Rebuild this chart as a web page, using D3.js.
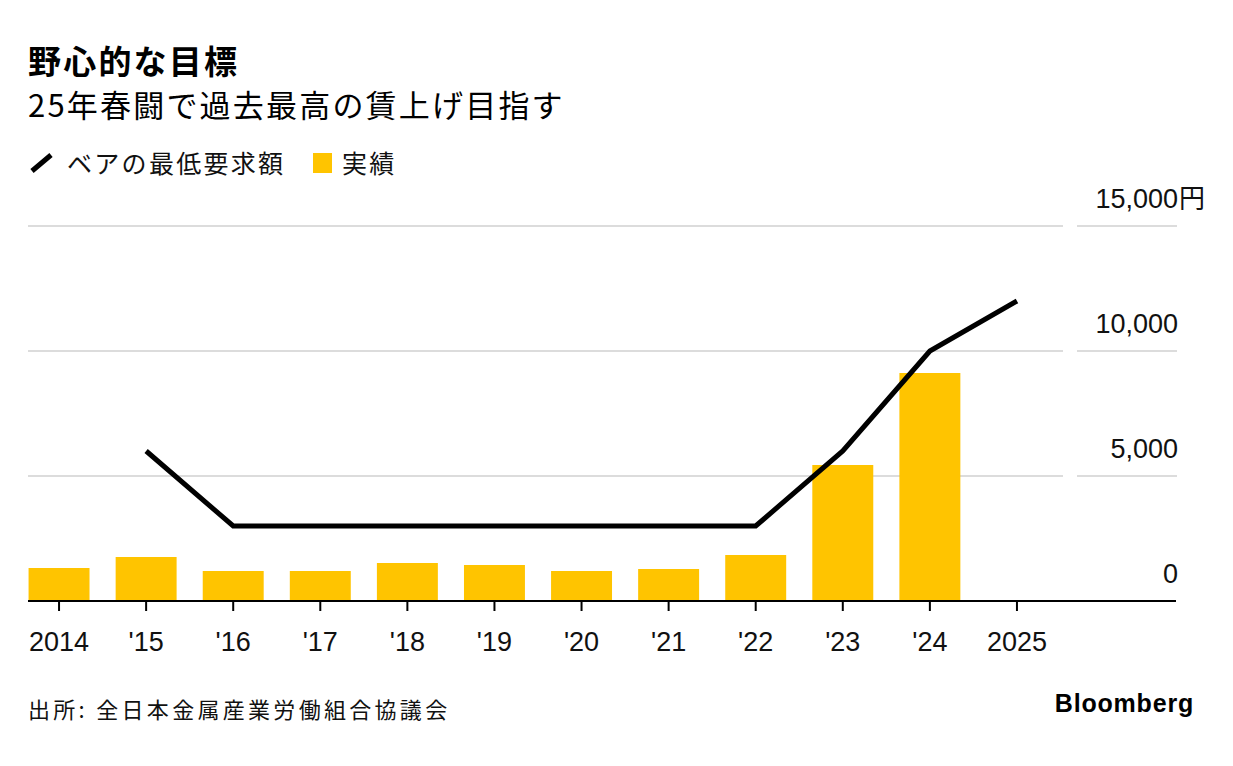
<!DOCTYPE html>
<html>
<head>
  <meta charset='utf-8'>
  <title>野心的な目標</title>
  <style type='text/css'>
body{
  margin:0;
  background:#fff;
}
text{
  font-family: 'Liberation Sans', 'Noto Sans CJK JP', sans-serif;
}
.jp{
  font-family: 'Noto Sans CJK JP', sans-serif;
}
  </style>
</head>
<body>
<div id='chart'></div>
<script src='https://cdn.jsdelivr.net/npm/d3@7'></script>
<script type='text/javascript'>

// data
var years = ['2014','2015','2016','2017','2018','2019','2020','2021','2022','2023','2024','2025'];
var yearLabels = ['2014',"'15","'16","'17","'18","'19","'20","'21","'22","'23","'24",'2025'];
var actual = [1320, 1760, 1200, 1200, 1520, 1440, 1200, 1280, 1840, 5440, 9120, null];
var demand = [null, 6000, 3000, 3000, 3000, 3000, 3000, 3000, 3000, 6000, 10000, 12000];
var yTicks = [0, 5000, 10000, 15000];

var W = 1233, H = 766;
var svg = d3.select('#chart').append('svg')
    .attr('width', W)
    .attr('height', H);

var x = d3.scaleBand()
    .domain(years)
    .range([15.5, 1060.5])
    .paddingInner(0.3)
    .paddingOuter(0.15);

var y = d3.scaleLinear()
    .domain([0, 15000])
    .range([601, 226]);

// gridlines (plot part + label part)
var gridTicks = yTicks.filter(function(d){ return d > 0; });
[[28, 1063], [1077, 1177]].forEach(function(seg){
  svg.selectAll(null)
    .data(gridTicks)
    .enter()
    .append('line')
      .attr('x1', seg[0]).attr('x2', seg[1])
      .attr('y1', function(d){ return y(d); })
      .attr('y2', function(d){ return y(d); })
      .style('stroke', '#dcdcdc')
      .style('stroke-width', 2);
});

// y labels
svg.selectAll('.ylab')
  .data(yTicks)
  .enter()
  .append('text')
    .attr('x', 1178)
    .attr('y', function(d){ return y(d) - 18; })
    .style('text-anchor', 'end')
    .style('font-size', '27px')
    .style('fill', '#111')
    .text(function(d){ return d3.format(',')(d); });

svg.append('text')
    .attr('class', 'jp')
    .attr('x', 1179)
    .attr('y', y(15000) - 18)
    .style('font-size', '26px')
    .style('fill', '#111')
    .text('円');

// bars
svg.selectAll('.bar')
  .data(years.map(function(d, i){ return {year: d, v: actual[i]}; })
             .filter(function(d){ return d.v !== null; }))
  .enter()
  .append('rect')
    .attr('x', function(d){ return x(d.year); })
    .attr('y', function(d){ return y(d.v); })
    .attr('width', x.bandwidth())
    .attr('height', function(d){ return y(0) - y(d.v); })
    .style('fill', '#ffc400');

// baseline + ticks
svg.append('line')
    .attr('x1', 28).attr('x2', 1176)
    .attr('y1', y(0)).attr('y2', y(0))
    .style('stroke', '#000')
    .style('stroke-width', 2);

var xAxis = svg.append('g')
    .attr('transform', 'translate(0,' + y(0) + ')')
    .call(d3.axisBottom(x).tickSize(10).tickFormat(function(d, i){ return yearLabels[i]; }));
xAxis.select('.domain').remove();
xAxis.selectAll('line').style('stroke', '#000').style('stroke-width', 2);
xAxis.selectAll('text')
    .attr('y', 50)
    .attr('dy', 0)
    .style('font-size', '27px')
    .style('fill', '#111')
    .style('font-family', "'Liberation Sans', sans-serif");

// demand line
var line = d3.line()
    .defined(function(d){ return d.v !== null; })
    .x(function(d){ return x(d.year) + x.bandwidth() / 2; })
    .y(function(d){ return y(d.v); });

svg.append('path')
    .datum(years.map(function(d, i){ return {year: d, v: demand[i]}; }))
    .attr('d', line)
    .style('fill', 'none')
    .style('stroke', '#000')
    .style('stroke-width', 5)
    .style('stroke-linejoin', 'miter');

// titles
svg.append('text')
    .attr('class', 'jp')
    .attr('x', 28).attr('y', 74)
    .style('font-size', '33px')
    .style('font-weight', 'bold')
    .style('letter-spacing', '2.2px')
    .style('fill', '#000')
    .text('野心的な目標');

svg.append('text')
    .attr('class', 'jp')
    .attr('x', 28).attr('y', 117)
    .style('font-size', '31px')
    .style('letter-spacing', '2.2px')
    .style('fill', '#000')
    .text('25年春闘で過去最高の賃上げ目指す');

// legend
svg.append('line')
    .attr('x1', 32).attr('y1', 171)
    .attr('x2', 51).attr('y2', 155)
    .style('stroke', '#000')
    .style('stroke-width', 5);

svg.append('text')
    .attr('class', 'jp')
    .attr('x', 67).attr('y', 173)
    .style('font-size', '25px')
    .style('letter-spacing', '2.3px')
    .style('fill', '#111')
    .text('ベアの最低要求額');

svg.append('rect')
    .attr('x', 313).attr('y', 153)
    .attr('width', 19).attr('height', 20)
    .style('fill', '#ffc400');

svg.append('text')
    .attr('class', 'jp')
    .attr('x', 342).attr('y', 173)
    .style('font-size', '25px')
    .style('letter-spacing', '2.3px')
    .style('fill', '#111')
    .text('実績');

// footer
svg.append('text')
    .attr('class', 'jp')
    .attr('x', 28).attr('y', 718)
    .style('font-size', '22px')
    .style('letter-spacing', '3.3px')
    .style('fill', '#111')
    .text('出所: 全日本金属産業労働組合協議会');

svg.append('text')
    .attr('x', 1194).attr('y', 712)
    .style('text-anchor', 'end')
    .style('font-size', '25px')
    .style('font-weight', 'bold')
    .style('letter-spacing', '0.8px')
    .style('fill', '#000')
    .text('Bloomberg');

</script>
</body>
</html>
